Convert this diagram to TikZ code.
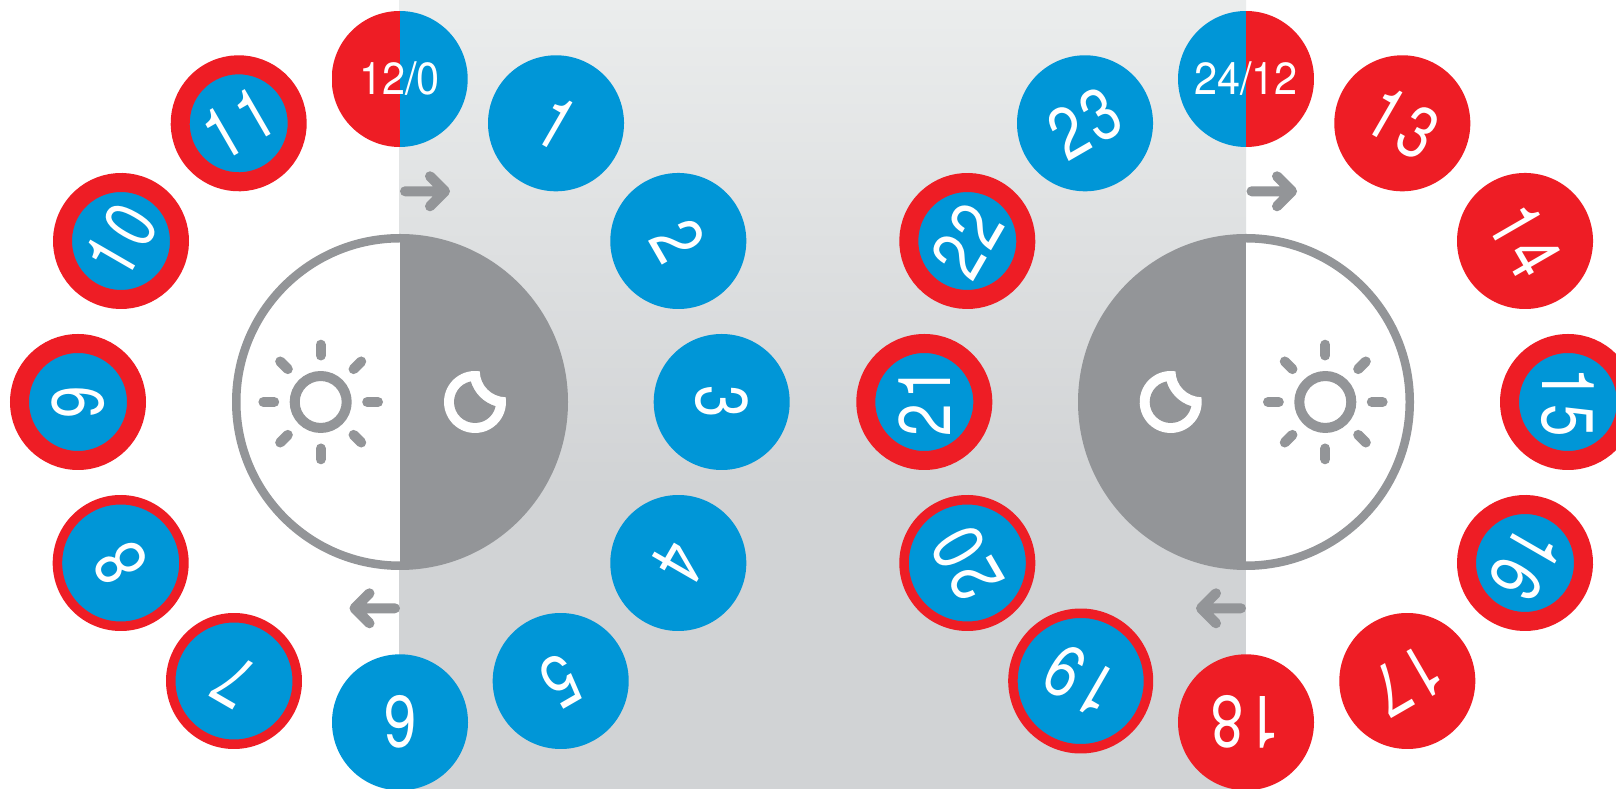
\documentclass[tikz,border=0pt]{standalone}
\usepackage{fontspec}
\newfontfamily\bigdigits[FakeStretch=0.80,LetterSpace=6]{TeX Gyre Heros}
\newfontfamily\smalldigits[FakeStretch=0.92]{TeX Gyre Heros}
\definecolor{hred}{HTML}{EE1D25}
\definecolor{hblue}{HTML}{0096D7}
\definecolor{dgray}{HTML}{939598}
\definecolor{bgtop}{HTML}{EBEDED}
\definecolor{bgbot}{HTML}{D1D3D5}
\tikzset{
  hourbase/.style={circle,inner sep=0pt,outer sep=0pt,text=white,font=\bigdigits\fontsize{73}{73}\selectfont},
  bluehour/.style={hourbase,minimum size=136pt,fill=hblue},
  redhour/.style={hourbase,minimum size=136pt,fill=hred},
  widering/.style={hourbase,minimum size=117pt,line width=19pt,draw=hred,fill=hblue},
  thinring/.style={hourbase,minimum size=126.5pt,line width=9.5pt,draw=hred,fill=hblue},
  bigring/.style={hourbase,minimum size=135.5pt,line width=9.5pt,draw=hred,fill=hblue},
  halfhour/.style={hourbase,minimum size=136pt,font=\smalldigits\fontsize{45}{45}\selectfont},
  splitfill/.style 2 args={path picture={
    \fill[#1] (path picture bounding box.south west) rectangle (path picture bounding box.north);
    \fill[#2] (path picture bounding box.south east) rectangle (path picture bounding box.north);}},
  dial/.style={circle,inner sep=0pt,outer sep=0pt,minimum size=327.5pt,line width=8.5pt,draw=dgray,fill=white},
  icon/.style={dgray,line width=10pt,line cap=round,line join=round},
  flow/.style={dgray,line width=10pt,line cap=round,line join=round}
}
\newcommand{\sunicon}[1]{%
  \begin{scope}[shift={(#1)}]
    \draw[icon] (0,0) circle[radius=26pt];
    \foreach \a in {0,45,...,315} \draw[icon] (\a:46.5) -- (\a:57.3);
  \end{scope}}
\newcommand{\moonicon}[1]{%
  \begin{scope}[shift={(#1)}]
    \fill[white] (81.2:31) arc[start angle=81.2,end angle=368.8,radius=31pt]
      arc[start angle=269.2,end angle=180.8,radius=26.25pt] -- cycle;
    \fill[dgray] (101.6:21) arc[start angle=101.6,end angle=348.4,radius=21pt]
      arc[start angle=253.5,end angle=196.5,radius=36.75pt] -- cycle;
  \end{scope}}
\begin{document}
\begin{tikzpicture}[x=1pt,y=1pt]
\useasboundingbox (0,0) rectangle (1616,789);
\clip (0,0) rectangle (1616,789);
\fill[white] (0,0) rectangle (1616,789);
% background band
\fill[bgbot] (399,0) rectangle (1246,300);
\shade[top color=bgtop,bottom color=bgbot] (399,299.5) rectangle (1246,789);
% dials
\node[dial,splitfill={white}{dgray}] (dialL) at (400,387) {};
\node[dial,splitfill={dgray}{white}] (dialR) at (1246,387) {};
\sunicon{320.7,387}
\moonicon{475,387}
\sunicon{1325.3,387}
\moonicon{1170.7,387}
% flow arrows
\coordinate (aS1) at (405,597.7); \coordinate (aT1) at (445,597.7);
\coordinate (aS2) at (1251.5,597.7); \coordinate (aT2) at (1292,597.7);
\coordinate (aS3) at (395,180.7); \coordinate (aT3) at (354.5,180.7);
\coordinate (aS4) at (1241,180.7); \coordinate (aT4) at (1201,180.7);
\draw[flow] (aS1) -- (aT1) ++(-15,15) -- (aT1) -- ++(-15,-15);
\draw[flow] (aS2) -- (aT2) ++(-15,15) -- (aT2) -- ++(-15,-15);
\draw[flow] (aS3) -- (aT3) ++(15,15) -- (aT3) -- ++(15,-15);
\draw[flow] (aS4) -- (aT4) ++(15,15) -- (aT4) -- ++(15,-15);
% hours 0-12
\node[halfhour,splitfill={hred}{hblue}] (h12) at (399.7,710) {12/0};
\node[bluehour,rotate=-30] (h1) at (556,665.7) {1};
\node[bluehour,rotate=-60] (h2) at (678.3,548) {2};
\node[bluehour,rotate=-90] (h3) at (721.7,387) {3};
\node[bluehour,rotate=-120] (h4) at (678.3,226) {4};
\node[bluehour,rotate=-150] (h5) at (560.7,108) {5};
\node[bluehour,rotate=180] (h6) at (400,66.7) {6};
\node[thinring,rotate=150] (h7) at (234,108) {7};
\node[thinring,rotate=120] (h8) at (120.7,226) {8};
\node[widering,rotate=90] (h9) at (78,387) {9};
\node[widering,rotate=60] (h10) at (121,548) {10};
\node[widering,rotate=30] (h11) at (238.7,665.7) {11};
% hours 12-24
\node[halfhour,splitfill={hblue}{hred}] (h24) at (1246,710) {24/12};
\node[redhour,rotate=-30] (h13) at (1402.3,665.7) {13};
\node[redhour,rotate=-60] (h14) at (1525,548) {14};
\node[widering,rotate=-90] (h15) at (1568,387) {15};
\node[widering,rotate=-120] (h16) at (1525,226) {16};
\node[redhour,rotate=-150] (h17) at (1407.3,108) {17};
\node[redhour,rotate=180] (h18) at (1246,66.7) {18};
\node[bigring,rotate=150] (h19) at (1080.7,108) {19};
\node[thinring,rotate=120] (h20) at (967.3,226) {20};
\node[widering,rotate=90] (h21) at (924.3,387) {21};
\node[widering,rotate=60] (h22) at (967.3,548) {22};
\node[bluehour,rotate=30] (h23) at (1085,665.7) {23};
\end{tikzpicture}
\end{document}
